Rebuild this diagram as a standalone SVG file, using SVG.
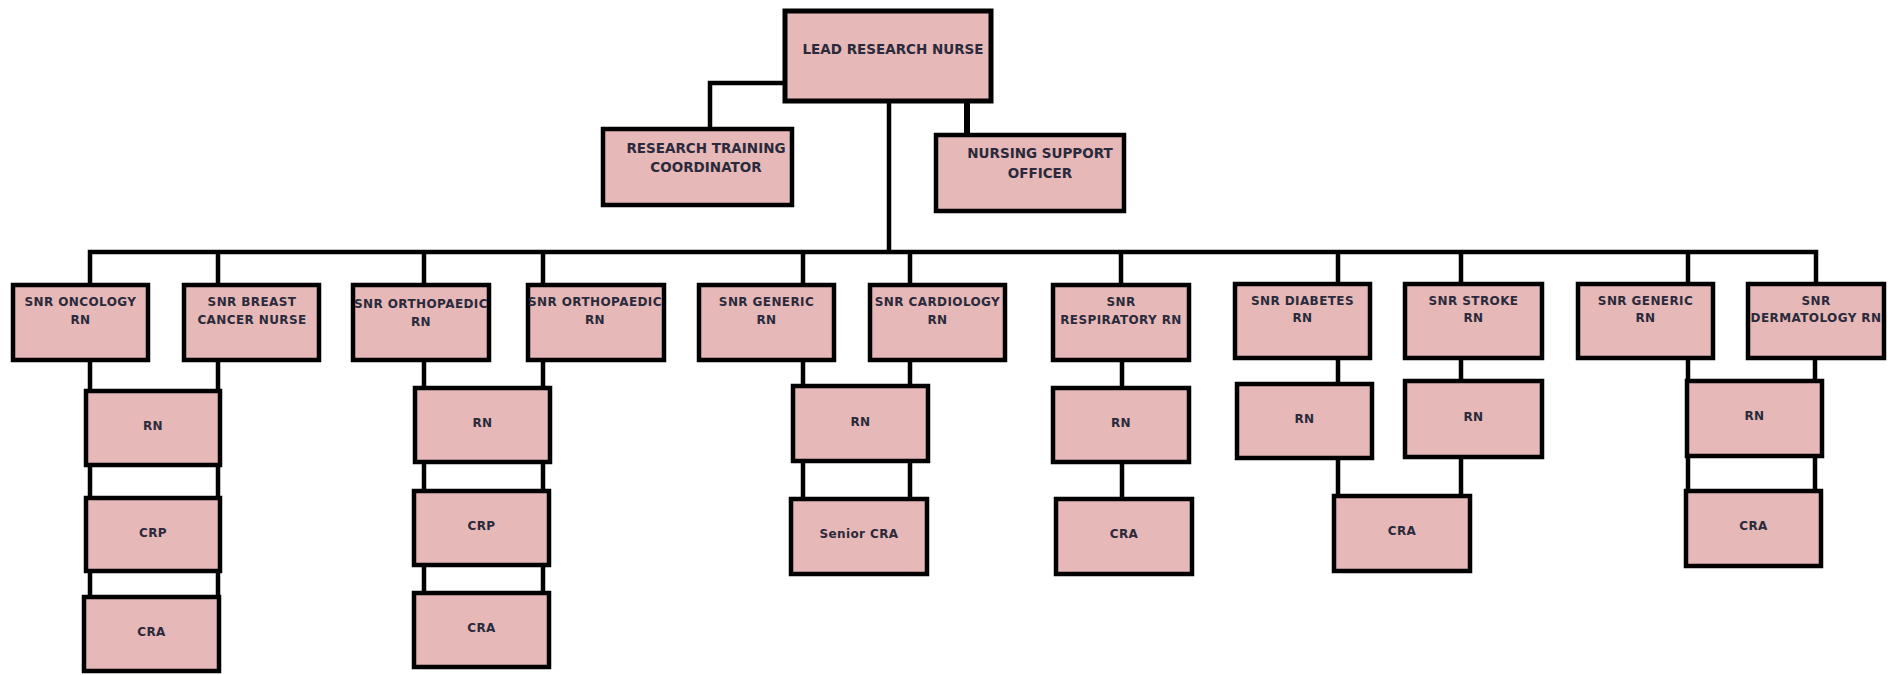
<svg xmlns="http://www.w3.org/2000/svg" width="1892" height="675" viewBox="0 0 1892 675">
<style>
.box{fill:#e6b8b7;stroke:#000;stroke-width:4.5}
.c{fill:none;stroke:#000;stroke-width:4.5}
.t{font-family:"DejaVu Sans","Liberation Sans",sans-serif;font-weight:bold;font-size:12px;letter-spacing:0.4px;fill:#2a2a3c;text-anchor:middle}
.tb{font-family:"DejaVu Sans","Liberation Sans",sans-serif;font-weight:bold;font-size:13.5px;fill:#2a2a3c;text-anchor:middle}
</style>
<rect width="1892" height="675" fill="#fff"/>
<g id="connectors">
<path class="c" d="M784 83H710V128"/>
<path class="c" d="M967 103V134" style="stroke-width:6"/>
<path class="c" d="M889 103V252"/>
<path class="c" d="M90 284V252H1816V284"/>
<path class="c" d="M218 252V284M424 252V284M543 252V284M803 252V284M910 252V284M1121 252V284M1338 252V283M1461 252V283M1688 252V283"/>
<path class="c" d="M90 362V596M218 362V596"/>
<path class="c" d="M424 362V592M543 362V592"/>
<path class="c" d="M803 362V498M910 362V498"/>
<path class="c" d="M1122 362V498"/>
<path class="c" d="M1338 360V495M1461 360V495"/>
<path class="c" d="M1688 360V490M1815 360V490"/>
</g>
<g id="lead"><rect class="box" x="785" y="11" width="206" height="90" style="stroke-width:5"/><text class="tb" x="893" y="54">LEAD RESEARCH NURSE</text></g>
<g id="rtc"><rect class="box" x="603" y="129" width="189" height="76"/><text class="tb" x="706" y="153">RESEARCH TRAINING</text><text class="tb" x="706" y="172">COORDINATOR</text></g>
<g id="nso"><rect class="box" x="936" y="135" width="188" height="76"/><text class="tb" x="1040" y="158">NURSING SUPPORT</text><text class="tb" x="1040" y="178">OFFICER</text></g>

<g id="snr-oncology"><rect class="box" x="13" y="285" width="135" height="75"/><text class="t" x="80.5" y="306">SNR ONCOLOGY</text><text class="t" x="80.5" y="324">RN</text></g>
<g id="snr-breast"><rect class="box" x="184" y="285" width="135" height="75"/><text class="t" x="252" y="306">SNR BREAST</text><text class="t" x="252" y="324">CANCER NURSE</text></g>
<g id="snr-ortho1"><rect class="box" x="353" y="285" width="136" height="75"/><text class="t" x="421" y="308">SNR ORTHOPAEDIC</text><text class="t" x="421" y="326">RN</text></g>
<g id="snr-ortho2"><rect class="box" x="528" y="285" width="136" height="75"/><text class="t" x="595" y="306">SNR ORTHOPAEDIC</text><text class="t" x="595" y="324">RN</text></g>
<g id="snr-generic1"><rect class="box" x="699" y="285" width="135" height="75"/><text class="t" x="766.5" y="306">SNR GENERIC</text><text class="t" x="766.5" y="324">RN</text></g>
<g id="snr-cardiology"><rect class="box" x="870" y="285" width="135" height="75"/><text class="t" x="937.5" y="306">SNR CARDIOLOGY</text><text class="t" x="937.5" y="324">RN</text></g>
<g id="snr-respiratory"><rect class="box" x="1053" y="285" width="136" height="75"/><text class="t" x="1121" y="306">SNR</text><text class="t" x="1121" y="324">RESPIRATORY RN</text></g>
<g id="snr-diabetes"><rect class="box" x="1235" y="284" width="135" height="74"/><text class="t" x="1302.5" y="305">SNR DIABETES</text><text class="t" x="1302.5" y="322">RN</text></g>
<g id="snr-stroke"><rect class="box" x="1405" y="284" width="137" height="74"/><text class="t" x="1473.5" y="305">SNR STROKE</text><text class="t" x="1473.5" y="322">RN</text></g>
<g id="snr-generic2"><rect class="box" x="1578" y="284" width="135" height="74"/><text class="t" x="1645.5" y="305">SNR GENERIC</text><text class="t" x="1645.5" y="322">RN</text></g>
<g id="snr-dermatology"><rect class="box" x="1748" y="284" width="136" height="74"/><text class="t" x="1816" y="305">SNR</text><text class="t" x="1816" y="322">DERMATOLOGY RN</text></g>

<g id="rn-a"><rect class="box" x="86" y="391" width="134" height="74"/><text class="t" x="153" y="430">RN</text></g>
<g id="crp-a"><rect class="box" x="86" y="498" width="134" height="73"/><text class="t" x="153" y="537">CRP</text></g>
<g id="cra-a"><rect class="box" x="84" y="597" width="135" height="74"/><text class="t" x="151.5" y="636">CRA</text></g>
<g id="rn-b"><rect class="box" x="415" y="388" width="135" height="74"/><text class="t" x="482.5" y="427">RN</text></g>
<g id="crp-b"><rect class="box" x="414" y="491" width="135" height="74"/><text class="t" x="481.5" y="530">CRP</text></g>
<g id="cra-b"><rect class="box" x="414" y="593" width="135" height="74"/><text class="t" x="481.5" y="632">CRA</text></g>
<g id="rn-c"><rect class="box" x="793" y="386" width="135" height="75"/><text class="t" x="860.5" y="426">RN</text></g>
<g id="senior-cra"><rect class="box" x="791" y="499" width="136" height="75"/><text class="t" x="859" y="538">Senior CRA</text></g>
<g id="rn-d"><rect class="box" x="1053" y="388" width="136" height="74"/><text class="t" x="1121" y="427">RN</text></g>
<g id="cra-d"><rect class="box" x="1056" y="499" width="136" height="75"/><text class="t" x="1124" y="538">CRA</text></g>
<g id="rn-diabetes"><rect class="box" x="1237" y="384" width="135" height="74"/><text class="t" x="1304.5" y="423">RN</text></g>
<g id="rn-stroke"><rect class="box" x="1405" y="381" width="137" height="76"/><text class="t" x="1473.5" y="421">RN</text></g>
<g id="cra-e"><rect class="box" x="1334" y="496" width="136" height="75"/><text class="t" x="1402" y="535">CRA</text></g>
<g id="rn-f"><rect class="box" x="1687" y="381" width="135" height="75"/><text class="t" x="1754.5" y="420">RN</text></g>
<g id="cra-f"><rect class="box" x="1686" y="491" width="135" height="75"/><text class="t" x="1753.5" y="530">CRA</text></g>
</svg>
